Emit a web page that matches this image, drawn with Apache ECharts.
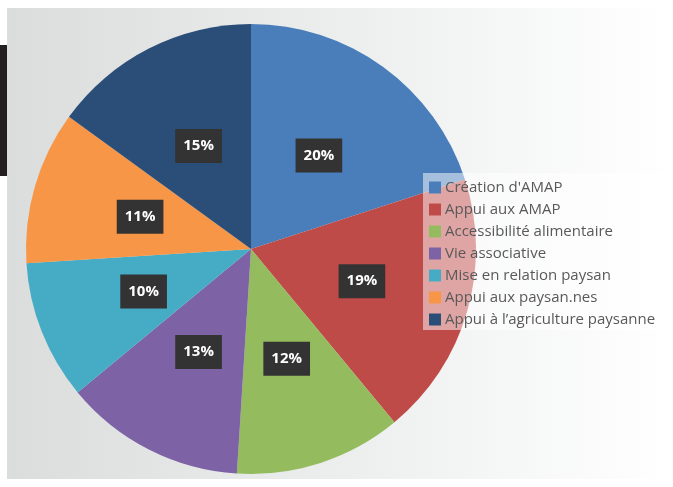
<!DOCTYPE html>
<html><head><meta charset="utf-8">
<script src="https://cdn.jsdelivr.net/npm/echarts@6/dist/echarts.min.js"></script>
<style>html,body{margin:0;padding:0;background:#fff}#c{width:673px;height:487px}</style>
</head><body><div id="c"></div>
<script>
const categories = ["Création d'AMAP","Appui aux AMAP","Accessibilité alimentaire","Vie associative","Mise en relation paysan","Appui aux paysan.nes","Appui à l’agriculture paysanne"];
const values = [20, 19, 12, 13, 10, 11, 15];
const colors = ['#4a7ebb','#be4b48','#94bb5d','#7d62a5','#46acc5','#f79646','#2a4e78'];

const chart = echarts.init(document.getElementById('c'));
chart.setOption({
  animation: false,
  backgroundColor: '#fff',
  color: colors,
  graphic: [
    {type:'rect', z:0, shape:{x:7,y:8,width:666,height:471},
     style:{fill:{type:'linear',x:0,y:0,x2:1,y2:0,colorStops:[{offset:0,color:'#dadddc'},{offset:0.55,color:'#eef0ef'},{offset:1,color:'#ffffff'}]}}},
    {type:'rect', z:1, shape:{x:0,y:45,width:7,height:131}, style:{fill:'#231f20'}},
    {type:'rect', z:10, shape:{x:423,y:173,width:250,height:157}, style:{fill:'rgba(255,255,255,0.5)'}}
  ],
  legend: {
    orient:'vertical', left:424, top:175, z:20,
    itemWidth:12, itemHeight:12, itemGap:7,
    icon:'rect',
    textStyle:{color:'#595959', fontFamily:'Open Sans', fontSize:15, lineHeight:15, padding:[0,0,0,-1]},
    data: categories
  },
  series: [{
    type:'pie', center:[251,249], radius:225, startAngle:90, clockwise:true,
    z:5,
    label:{show:true, position:'inside', formatter:'{c}%', color:'#fff', fontWeight:'bold',
      fontFamily:'Open Sans', fontSize:15, backgroundColor:'#333333', padding:[10,8,9,8]},
    labelLine:{show:false},
    emphasis:{disabled:true},
    data: categories.map((n,i)=>({name:n, value:values[i]}))
  }]
});
</script></body></html>
